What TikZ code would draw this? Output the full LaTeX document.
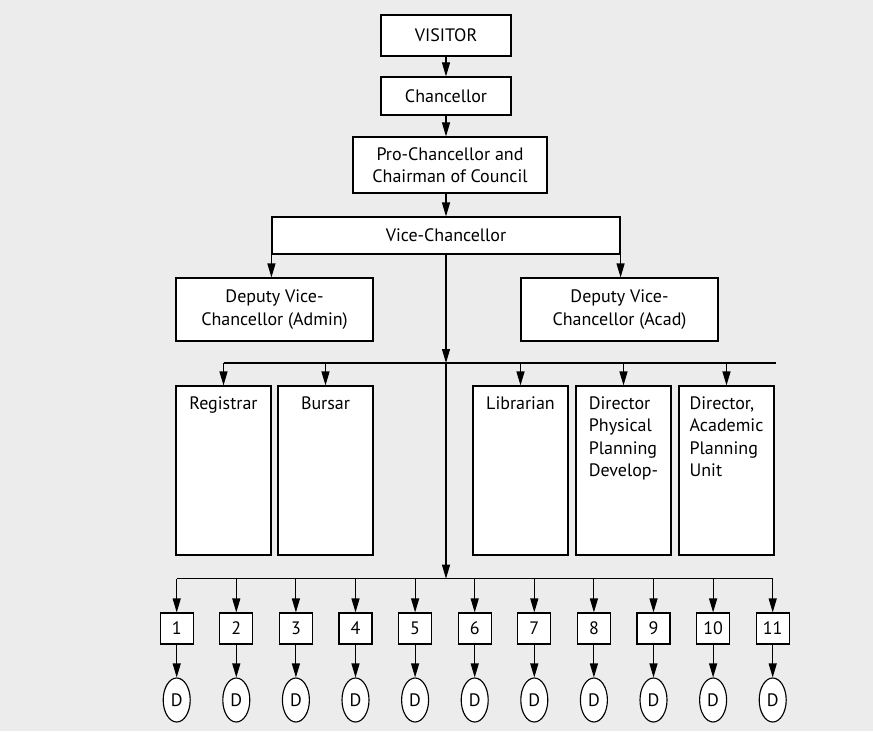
\documentclass[tikz,border=0pt]{standalone}
\usepackage{fontspec}
\setmainfont{PT Sans}
\usetikzlibrary{arrows.meta}
\usetikzlibrary{shapes.geometric}
\definecolor{panelgrey}{HTML}{ECECEC}

\begin{document}
\begin{tikzpicture}[x=0.75pt,y=-0.75pt,
    line width=0.85pt,
    >={Triangle[length=10.5pt,width=6pt]},
    every node/.style={font=\fontsize{13.5}{16.9}\selectfont},
    box/.style={draw,fill=white,line width=0.85pt,inner sep=0pt,align=center},
    tallbox/.style={box,minimum width=71.25pt,minimum height=126.75pt},
    unitbox/.style={box,minimum width=24.75pt,minimum height=23.25pt},
    dept/.style={draw,fill=white,ellipse,inner sep=0pt,minimum width=20.25pt,minimum height=33pt}]
    % 背景
    \fill[panelgrey] (0,0) rectangle (873,731);
    \useasboundingbox (0,0) rectangle (873,731);

    % 上层
    \node[box,minimum width=97.5pt,minimum height=30.75pt] (visitor) at (446,35.5) {VISITOR};
    \node[box,minimum width=97.5pt,minimum height=28.5pt] (chanc) at (446,96) {Chancellor};
    \node[box,minimum width=145.5pt,minimum height=42pt] (prochanc) at (450,165) {Pro-Chancellor and\\Chairman of Council};
    \node[box,minimum width=261pt,minimum height=27.75pt] (vc) at (446,235.5) {Vice-Chancellor};
    \node[box,minimum width=147.75pt,minimum height=47.25pt] (dvcadmin) at (274.5,309.5) {Deputy Vice-\\Chancellor (Admin)};
    \node[box,minimum width=147.75pt,minimum height=47.25pt] (dvcacad) at (619.5,309.5) {Deputy Vice-\\Chancellor (Acad)};

    \draw[->] (visitor) -- (chanc);
    \draw[->] (chanc.south) -- (chanc.south |- prochanc.north);
    \draw[->] (vc.north |- prochanc.south) -- (vc.north);
    \draw[->] (vc.south west) -- (vc.south west |- dvcadmin.north);
    \draw[->] (vc.south east) -- (vc.south east |- dvcacad.north);

    % 中层
    \foreach \name/\xc/\txt in {reg/223.5/Registrar, bursar/325.5/Bursar, lib/520.5/Librarian,
        dpp/623.5/{Director\\Physical\\Planning\\Develop-}, dapu/726.5/{Director,\\Academic\\Planning\\Unit}}
        \node[tallbox,label={[name=\name-text,anchor=north,align=left,yshift=-4.5pt]north:\txt}] (\name) at (\xc,470.5) {};

    \coordinate (hub1) at (446,363);
    \coordinate (hub1end) at (776,363);
    \draw[->] (vc.south) -- (hub1);
    \draw (reg.north |- hub1) -- (hub1end);
    \foreach \name in {reg,bursar,lib,dpp,dapu}
        \draw[->] (\name.north |- hub1) -- (\name.north);

    % 下层
    \foreach \i in {1,...,11} {
        \node[unitbox] (u\i) at ({176.7+(\i-1)*59.6},628.5) {\i};
        \node[dept] (d\i) at ({176.7+(\i-1)*59.6},700) {D};
    }
    \coordinate (hub2) at (446,578.7);
    \draw[->] (hub1) -- (hub2);
    \draw (u1.north |- hub2) -- (u11.north |- hub2);
    \foreach \i in {1,...,11} {
        \draw[->] (u\i.north |- hub2) -- (u\i.north);
        \draw[->] (u\i) -- (d\i);
    }
\end{tikzpicture}
\end{document}
